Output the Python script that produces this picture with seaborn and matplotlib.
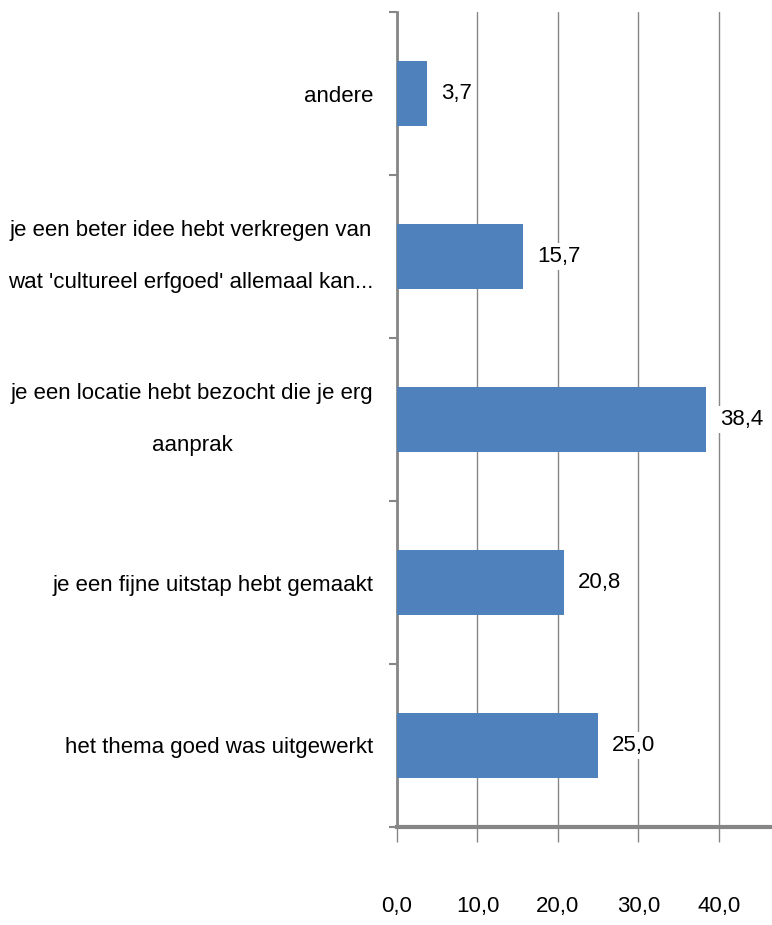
import matplotlib
matplotlib.use("Agg")
import matplotlib.pyplot as plt
import matplotlib.ticker as mticker
import pandas as pd
import seaborn as sns

# ── Datos ──────────────────────────────────────────────────────────────────
CATEGORIES = [
    "andere",
    "je een beter idee hebt verkregen van\nwat 'cultureel erfgoed' allemaal kan...",
    "je een locatie hebt bezocht die je erg\naanprak",
    "je een fijne uitstap hebt gemaakt",
    "het thema goed was uitgewerkt",
]
VALUES = [3.7, 15.7, 38.4, 20.8, 25.0]
X_TICKS = [0, 10, 20, 30, 40]

BAR_COLOR = "#4F81BD"
GRID_COLOR = "#868686"
FONT_SIZE = 16


def comma(v: float) -> str:
    """Formato decimal con coma (estilo Excel NL)."""
    return f"{v:.1f}".replace(".", ",")


sns.set_theme(style="white")
plt.rcParams["font.family"] = ["Liberation Sans", "DejaVu Sans"]

df = pd.DataFrame({"categorie": CATEGORIES, "waarde": VALUES})

fig = plt.figure(figsize=(7.72, 9.25), dpi=100)
ax = fig.add_axes([397 / 772, 1 - 827 / 925, 1 - 397 / 772, (827 - 12) / 925])

sns.barplot(data=df, y="categorie", x="waarde", orient="h", color=BAR_COLOR,
            width=0.4, saturation=1, linewidth=0, ax=ax, zorder=3)

ax.set_xlim(0, 46.6)
ax.set_ylim(4.5, -0.5)
ax.set_xlabel("")
ax.set_ylabel("")

# rejilla vertical
ax.set_xticks(X_TICKS)
ax.xaxis.set_major_formatter(mticker.FuncFormatter(lambda v, _: comma(v)))
ax.grid(axis="x", color=GRID_COLOR, linewidth=1)
ax.set_axisbelow(True)

for side in ("top", "right"):
    ax.spines[side].set_visible(False)
ax.spines["left"].set_color(GRID_COLOR)
ax.spines["left"].set_linewidth(2)
ax.spines["bottom"].set_color(GRID_COLOR)
ax.spines["bottom"].set_linewidth(3)

ax.tick_params(axis="x", bottom=True, direction="out", length=11, width=1,
               color=GRID_COLOR, pad=39, labelsize=FONT_SIZE, labelcolor="black")
ax.tick_params(axis="y", which="major", left=False, length=0, pad=17,
               labelsize=FONT_SIZE, labelcolor="black")
ax.set_yticks([i + 0.5 for i in range(-1, 5)], minor=True)
ax.tick_params(axis="y", which="minor", left=True, direction="out", length=6, width=1.5,
               color=GRID_COLOR)
for lbl in ax.get_yticklabels():
    lbl.set_multialignment("center")
    lbl.set_linespacing(2.9)
    if "\n" in lbl.get_text():
        lbl.set_verticalalignment("center")

labels = [comma(v) for v in VALUES]
for cont in ax.containers:
    ax.bar_label(cont, labels=labels, padding=10, fontsize=FONT_SIZE, color="black",
                 bbox=dict(facecolor="white", edgecolor="none", pad=2))

fig.savefig("out.png", dpi=100)
